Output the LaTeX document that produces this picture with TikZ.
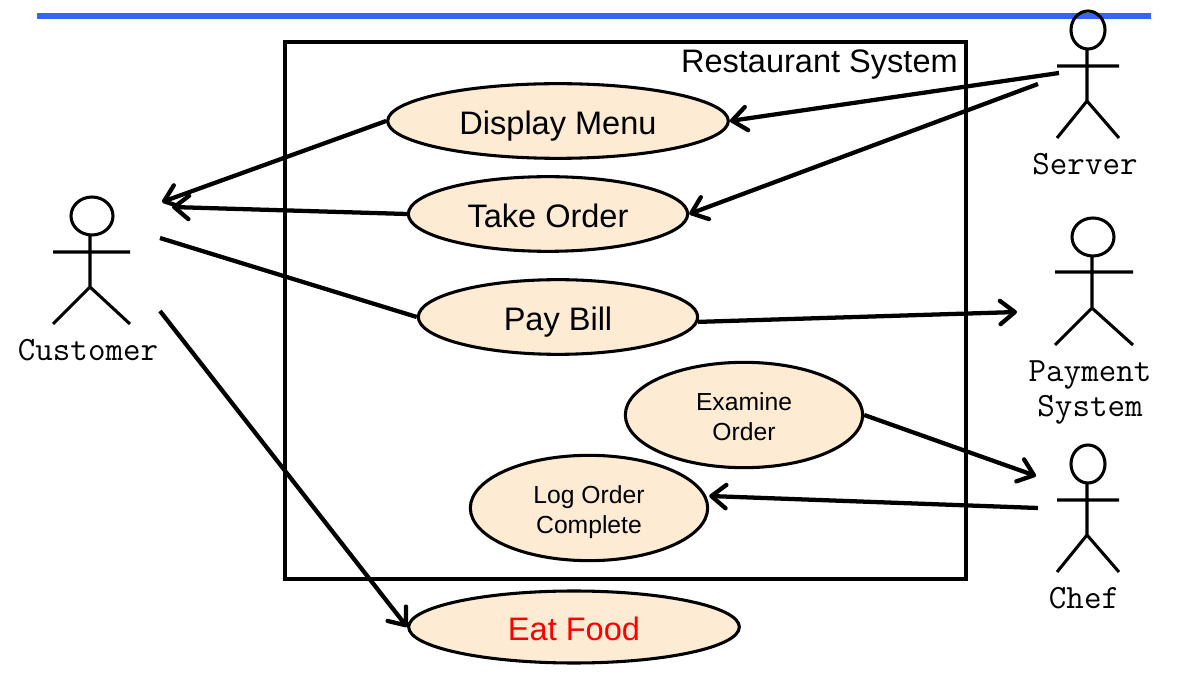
\documentclass[tikz,border=0pt]{standalone}
\usepackage{fontspec}
\setmainfont{Liberation Sans}
\usetikzlibrary{shapes.geometric,arrows.meta}
\definecolor{caseFill}{HTML}{FDEBD3}
\definecolor{topBlue}{HTML}{3366F5}
\newcommand{\topfix}{\rule{0pt}{21.5pt}}
\newcommand{\botfix}{\rule[-5pt]{0pt}{5pt}}
\tikzset{
  usecase/.style={ellipse,draw=black,line width=2.3pt,fill=caseFill,inner sep=0pt,align=center},
  big/.style={font=\fontsize{24.4}{29}\selectfont,text height=20.2pt,text depth=0pt},
  small/.style={font=\fontsize{18.5}{22.5}\selectfont},
  link/.style={line width=3.2pt,line cap=butt},
  arrowlink/.style={link,-{Straight Barb[length=11pt,width=17.5pt,line width=3.2pt,round]}},
  actorline/.style={line width=2.3pt},
  actorname/.style={font=\ttfamily\fontsize{25.5}{26.25}\selectfont,align=center,inner sep=0pt},
}
\begin{document}
\begin{tikzpicture}[x=0.75pt,y=-0.75pt]
\useasboundingbox (0,0) rectangle (1186,673);
\fill[white] (0,0) rectangle (1186,673);
\draw[topBlue,line width=4pt] (37,16) -- (1151,16);
\draw[line width=2.3pt] (285,42) rectangle (966,579);
\node[big,anchor=east,inner sep=0pt] (title) at (958,59) {Restaurant System};
\node[usecase,big,minimum width=255.5pt,minimum height=56pt] (dm) at (558,121) {Display Menu};
\node[usecase,big,minimum width=209.5pt,minimum height=56pt] (to) at (548,214) {Take Order};
\node[usecase,big,minimum width=209.5pt,minimum height=56pt] (pb) at (558,317) {Pay Bill};
\node[usecase,small,minimum width=178pt,minimum height=79pt] (eo) at (744,415) {\topfix Examine\\Order\botfix};
\node[usecase,small,minimum width=178pt,minimum height=79pt] (lo) at (589,508) {\topfix Log Order\\Complete\botfix};
\node[usecase,big,minimum width=248pt,minimum height=54pt,text=red] (ef) at (574,627) {Eat Food};
% actors
\node[actorname] (customer) at (88,350) {Customer};
\draw[actorline] (92,216) ellipse [x radius=21,y radius=19];
\draw[actorline] (90,235) -- (90,287) (53,252) -- (130,252) (53,324) -- (90,287) -- (130,324);
\node[actorname] (server) at (1085,164) {Server};
\draw[actorline] (1088,30) ellipse [x radius=17,y radius=19];
\draw[actorline] (1087,49) -- (1087,101) (1057,66) -- (1119,66) (1057,138) -- (1087,101) -- (1119,138);
\node[actorname] (payment) at (1090,392) {Payment\\System};
\draw[actorline] (1093,237) ellipse [x radius=21,y radius=19];
\draw[actorline] (1092,256) -- (1092,308) (1055,272) -- (1133,272) (1055,345) -- (1092,308) -- (1133,345);
\node[actorname] (chef) at (1084,598) {Chef};
\draw[actorline] (1088,464) ellipse [x radius=17,y radius=19];
\draw[actorline] (1087,483) -- (1087,535) (1057,500) -- (1119,500) (1057,572) -- (1087,535) -- (1119,572);
% free ends
\coordinate (c1) at (162,202);
\coordinate (c2) at (172,207);
\coordinate (c3) at (160,238);
\coordinate (c4) at (160,311);
\coordinate (s1) at (1059,73);
\coordinate (s2) at (1038,84);
\coordinate (p1) at (1017,312);
\coordinate (h1) at (1036,476);
\coordinate (h2) at (1038,508);
% connectors
\draw[arrowlink] (dm.west) -- (c1);
\draw[arrowlink] (to.west) -- (c2);
\draw[link] (c3) -- (pb.west);
\draw[arrowlink] (c4) -- (ef.west);
\draw[arrowlink] (s1) -- (dm.east);
\draw[arrowlink] (s2) -- (to.east);
\draw[arrowlink] (pb.358) -- (p1);
\draw[arrowlink] (eo.east) -- (h1);
\draw[arrowlink] (h2) -- ([yshift=9pt]lo.east);
\end{tikzpicture}
\end{document}
